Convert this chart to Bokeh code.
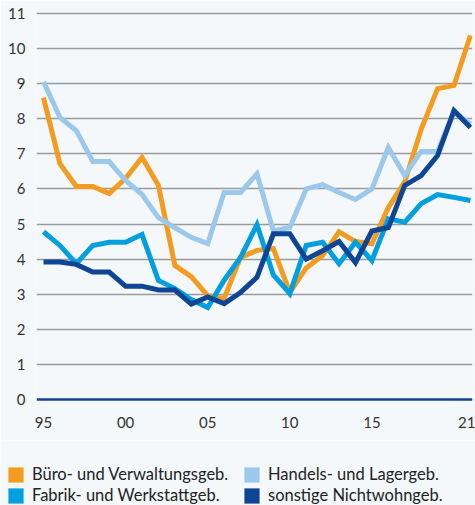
from bokeh.plotting import figure
from bokeh.layouts import column
from bokeh.models import Range1d, FixedTicker, Legend, LegendItem, Span
from bokeh.embed import file_html
from bokeh.resources import INLINE

years = list(range(1995, 2022))
buero = [8.6, 6.72, 6.07, 6.07, 5.87, 6.3, 6.9, 6.1, 3.82, 3.5, 2.96, 2.88, 4.05, 4.25, 4.3,
         3.05, 3.75, 4.1, 4.78, 4.5, 4.44, 5.47, 6.2, 7.7, 8.86, 8.95, 10.37]
handel = [9.05, 8.04, 7.66, 6.78, 6.78, 6.24, 5.84, 5.18, 4.9, 4.62, 4.44, 5.9, 5.9, 6.43, 4.8,
          4.9, 6.0, 6.12, 5.9, 5.7, 6.0, 7.18, 6.38, 7.07, 7.07, 8.2, 7.85]
fabrik = [4.78, 4.39, 3.87, 4.39, 4.48, 4.48, 4.7, 3.39, 3.16, 2.85, 2.62, 3.4, 4.05, 4.98, 3.55,
          3.02, 4.39, 4.48, 3.87, 4.48, 3.96, 5.15, 5.05, 5.58, 5.84, 5.76, 5.67]
sonst = [3.92, 3.92, 3.85, 3.63, 3.63, 3.23, 3.23, 3.12, 3.12, 2.72, 2.92, 2.73, 3.05, 3.48, 4.72,
         4.72, 4.0, 4.24, 4.5, 3.9, 4.8, 4.9, 6.1, 6.38, 6.95, 8.23, 7.75]
names = {"buero": "Büro- und Verwaltungsgeb.", "handel": "Handels- und Lagergeb.",
         "fabrik": "Fabrik- und Werkstattgeb.", "sonst": "sonstige Nichtwohngeb."}
x_ticks = [1995, 2000, 2005, 2010, 2015, 2021]
x_tick_labels = ["95", "00", "05", "10", "15", "21"]
y_ticks = list(range(0, 12))

BG = "#F4F8FB"
FONT = "Lato"
colors = {"buero": "#F39C1F", "handel": "#9BC8EB", "fabrik": "#009FDF", "sonst": "#0E4595"}

p = figure(width=475, height=440, output_backend="svg", toolbar_location=None,
           x_range=Range1d(1994.574, 2021.126), y_range=Range1d(-0.2, 11.085),
           min_border_left=36, min_border_right=3, min_border_top=10, min_border_bottom=34,
           background_fill_color=BG, border_fill_color=BG, outline_line_color=None)
p.frame_align = False

p.xgrid.visible = False
p.ygrid.ticker = FixedTicker(ticks=y_ticks[1:])
p.ygrid.grid_line_color = "#9A9A9A"
p.ygrid.grid_line_width = 1.5

zero = Span(location=0, dimension="width", line_color=colors["sonst"], line_width=2.5)
p.add_layout(zero)

for ax in (p.xaxis[0], p.yaxis[0]):
    ax.axis_line_color = None
    ax.major_tick_line_color = None
    ax.minor_tick_line_color = None
    ax.major_tick_out = 0
    ax.major_tick_in = 0
    ax.major_label_text_font = FONT
    ax.major_label_text_font_size = "15px"
    ax.major_label_text_color = "#333333"

p.xaxis.ticker = FixedTicker(ticks=x_ticks)
p.xaxis.major_label_overrides = {t: l for t, l in zip(x_ticks, x_tick_labels)}
p.xaxis.major_label_standoff = 10
p.yaxis.ticker = FixedTicker(ticks=y_ticks)
p.yaxis.major_label_standoff = 11

series = [("buero", buero), ("handel", handel), ("fabrik", fabrik), ("sonst", sonst)]
for key, vals in series:
    p.line(years, vals, line_color=colors[key], line_width=5, line_join="miter")

# legend figure
lg = figure(width=475, height=65, output_backend="svg", toolbar_location=None,
            x_range=Range1d(0, 1), y_range=Range1d(0, 1),
            x_axis_location=None, y_axis_location=None,
            min_border=0, min_border_left=0, min_border_right=0, min_border_top=0, min_border_bottom=0,
            background_fill_color=BG, border_fill_color=BG, outline_line_color=None)
lg.frame_align = False
lg.grid.visible = False
sw = {}
for key in colors:
    sw[key] = lg.quad(left=[float("nan")], right=[float("nan")], top=[float("nan")],
                      bottom=[float("nan")], fill_color=colors[key], line_color=None)


def make_legend(keys, x):
    return Legend(items=[LegendItem(label=names[k], renderers=[sw[k]]) for k in keys],
                  location=(x, 0), orientation="vertical",
                  glyph_width=19, glyph_height=19, label_height=19, label_standoff=7,
                  spacing=1, padding=0, margin=0, background_fill_alpha=0, border_line_color=None,
                  label_text_font=FONT, label_text_font_size="16.5px", label_text_color="#222222")


lg.add_layout(make_legend(["buero", "fabrik"], 6), "center")
lg.add_layout(make_legend(["handel", "sonst"], 242), "center")

layout = column(p, lg, spacing=0)
html = file_html(layout, INLINE)
open("out.html", "w").write(html)
